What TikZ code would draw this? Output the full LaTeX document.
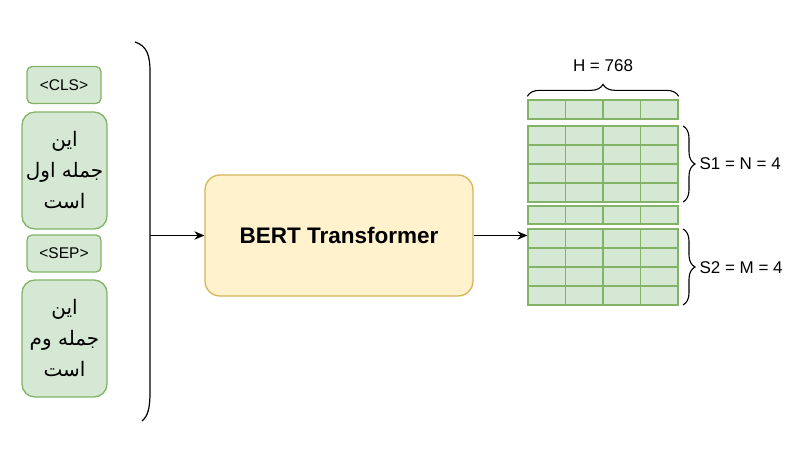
\documentclass[tikz,border=0pt]{standalone}
\usepackage{fontspec}
\setmainfont{Liberation Sans}
\newfontfamily\arabicfont[Script=Arabic]{DejaVu Sans}
\TeXXeTstate=1
\usetikzlibrary{arrows.meta,decorations.pathreplacing,calc}
\definecolor{gfill}{HTML}{D5E8D4}
\definecolor{gline}{HTML}{82B366}
\definecolor{yfill}{HTML}{FFF2CC}
\definecolor{yline}{HTML}{D6B656}
\begin{document}
\begin{tikzpicture}[x=1pt,y=-1pt,
  tok/.style={draw=gline,fill=gfill,line width=1.3pt,rounded corners=5pt,minimum width=74pt,minimum height=37pt,inner sep=0pt,font=\fontsize{15.5}{18}\selectfont},
  sent/.style={draw=gline,fill=gfill,line width=1.3pt,rounded corners=13pt,minimum width=85pt,minimum height=117pt,inner sep=0pt,align=center,font=\arabicfont\fontsize{20}{31}\selectfont},
  bert/.style={draw=yline,fill=yfill,line width=1.3pt,rounded corners=15pt,minimum width=268pt,minimum height=121pt,font=\bfseries\fontsize{22.5}{26}\selectfont},
  row/.style={draw=gline,fill=gfill,line width=1.3pt,minimum width=150pt,minimum height=#1,inner sep=0pt},
  row/.default=19pt,
  arr/.style={-{Stealth[length=10pt,width=8.5pt]},line width=1.1pt},
  br/.style={decorate,decoration={brace,amplitude=12pt},line width=1.1pt},
  lab/.style={font=\fontsize{17}{20}\selectfont}]
\useasboundingbox (0,0) rectangle (800,457);
% input tokens
\node[tok] (cls) at (64,85) {<CLS>};
\node[sent] (s1) at (64.5,170.5) {\beginR این\endR\\\beginR جمله اول\endR\\\beginR است\endR};
\node[tok] (sep) at (64,253.5) {<SEP>};
\node[sent] (s2) at (64.5,338.5) {\beginR این\endR\\\beginR جمله وم\endR\\\beginR است\endR};
% big bracket
\draw[line width=1.2pt] (135,42) .. controls (147,46) and (150,55) .. (150,72) -- (150,392) .. controls (150,408) and (148,416) .. (142,421);
\coordinate (bk) at (150,235.5);
% BERT
\node[bert] (bert) at (339,235.5) {BERT Transformer};
\draw[arr] (bk) -- (bert.west);
% output grid
\node[row] (r0) at (603,109.5) {};
\foreach \i/\y in {1/135.5,2/154.5,3/173.5,4/192.5} \node[row] (a\i) at (603,\y) {};
\node[row=18pt] (rs) at (603,215) {};
\foreach \i/\y in {1/238.5,2/257.5,3/276.5,4/295.5} \node[row] (b\i) at (603,\y) {};
\foreach \n in {r0,a1,a2,a3,a4,rs,b1,b2,b3,b4}
  \foreach \f in {0.25,0.5,0.75}
    \draw[gline,line width=1.3pt] ($(\n.north west)!\f!(\n.north east)$) -- ($(\n.south west)!\f!(\n.south east)$);
\draw[arr] (bert.east) -- (bert.east -| b1.west);
% braces
\draw[br] ($(r0.north west)+(0,-3)$) coordinate (h1) -- ($(r0.north east)+(0,-3)$) coordinate (h2);
\node[lab] (hl) at (603,66) {H = 768};
\draw[br] (683,126) coordinate (p1) -- (683,202) coordinate (p2);
\node[lab,anchor=west] (l1) at (696,164) {S1 = N = 4};
\draw[br] (683,229) coordinate (q1) -- (683,305) coordinate (q2);
\node[lab,anchor=west] (l2) at (696,268) {S2 = M = 4};
\end{tikzpicture}
\end{document}
